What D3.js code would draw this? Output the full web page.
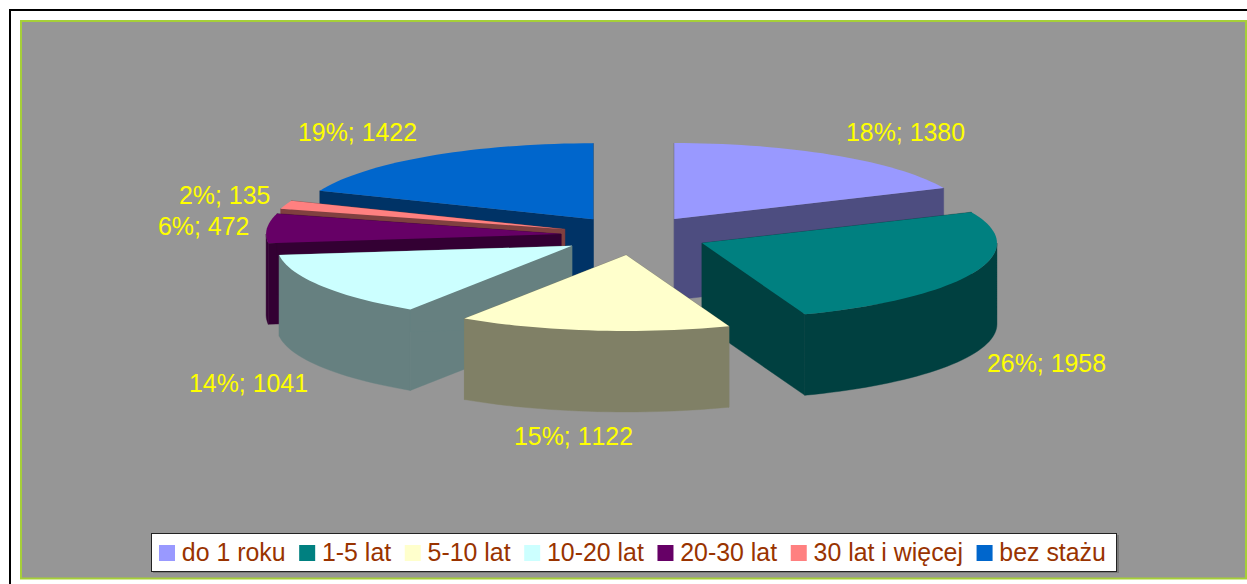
<!DOCTYPE html>
<html><head><meta charset="utf-8">
<script src="https://cdnjs.cloudflare.com/ajax/libs/d3/7.8.5/d3.min.js"></script>
<style>html,body{margin:0;padding:0;background:#fff}svg{display:block}text{font-family:"Liberation Sans",Arial,sans-serif;font-kerning:none}</style>
</head><body><svg id="c" width="1247" height="584"></svg>
<script>
const categories=["do 1 roku","1-5 lat","5-10 lat","10-20 lat","20-30 lat","30 lat i więcej","bez stażu"];
const values=[1380,1958,1122,1041,472,135,1422];
const percentLabels=["18%","26%","15%","14%","6%","2%","19%"];
const topColors=["#9999FF","#008080","#FFFFCC","#CCFFFF","#660066","#FF8080","#0066CC"];
const sideColors=["#4D4D80","#004040","#808066","#668080","#330033","#804040","#003366"];
const drawOrder=[6,5,4,0,3,1,2];
const labelAnchors=[[846,141],[987,372],[514,445],[189,392],[158,235],[179,204],[298,141]];

const W=1247,H=584,cx=634.3,cy=235.5,rx=295,ry=76,depth=81,ex=73.4,ey=19.6;
const svg=d3.select("#c");
svg.append("rect").attr("x",10).attr("y",10).attr("width",W).attr("height",H).attr("fill","#fff").attr("stroke","#000").attr("stroke-width",2);
svg.append("rect").attr("x",21).attr("y",21).attr("width",1225).attr("height",557.5).attr("fill","#969696").attr("stroke","#A6CF38").attr("stroke-width",2);

const arcs=d3.pie().sort(null).value(d=>d)(values);
const sx=d3.scaleLinear().domain([-1,1]).range([-rx,rx]);
const sy=d3.scaleLinear().domain([-1,1]).range([ry,-ry]);
function slice(d){
  const mid=(d.startAngle+d.endAngle)/2;
  const ax=cx+ex*Math.sin(mid), ay=cy-ey*Math.cos(mid);
  const pt=(a,dz=0)=>[ax+sx(Math.sin(a)),ay+sy(Math.cos(a))+dz];
  const angles=(a0,a1)=>{const n=Math.max(2,Math.ceil((a1-a0)*30));return d3.range(n+1).map(k=>a0+(a1-a0)*k/n);};
  const line=d3.line();
  const top=line([[ax,ay],...angles(d.startAngle,d.endAngle).map(a=>pt(a))])+"Z";
  // only the part of the rim that faces the viewer gets a wall
  const w0=Math.max(d.startAngle,Math.PI/2), w1=Math.min(d.endAngle,3*Math.PI/2);
  let wall=null;
  if(w1>w0){const as=angles(w0,w1);wall=line([...as.map(a=>pt(a)),...as.slice().reverse().map(a=>pt(a,depth))])+"Z";}
  const f1=line([[ax,ay],pt(d.startAngle),pt(d.startAngle,depth),[ax,ay+depth]])+"Z";
  const f2=line([[ax,ay],pt(d.endAngle),pt(d.endAngle,depth),[ax,ay+depth]])+"Z";
  return {top,wall,f1,f2};
}
const g=svg.append("g").selectAll("g").data(drawOrder).join("g");
g.each(function(idx){
  const p=slice(arcs[idx]), s=d3.select(this);
  [p.f1,p.f2,p.wall].filter(Boolean).forEach(q=>s.append("path").attr("d",q).attr("fill",sideColors[idx]).attr("stroke",sideColors[idx]).attr("stroke-width",.4));
  s.append("path").attr("d",p.top).attr("fill",topColors[idx]);
});
svg.append("g").selectAll("text").data(values).join("text")
  .attr("x",(d,i)=>labelAnchors[i][0]).attr("y",(d,i)=>labelAnchors[i][1])
  .attr("fill","#FFFF00").attr("font-size",24.9)
  .text((d,i)=>percentLabels[i]+"; "+d);

const lg=svg.append("g");
lg.append("rect").attr("x",153).attr("y",535).attr("width",966).attr("height",38).attr("fill","#666").attr("opacity",.6);
lg.append("rect").attr("x",151.5).attr("y",533.5).attr("width",965).attr("height",38).attr("fill","#fff").attr("stroke","#222").attr("stroke-width",1);
let x=159;
categories.forEach((c,i)=>{
  lg.append("rect").attr("x",x).attr("y",545).attr("width",16).attr("height",16).attr("fill",topColors[i]);
  const t=lg.append("text").attr("x",x+22.8).attr("y",561).attr("fill","#993300").attr("font-size",24.9).text(c);
  x+=22.8+t.node().getComputedTextLength()+13.6;
});
</script></body></html>
